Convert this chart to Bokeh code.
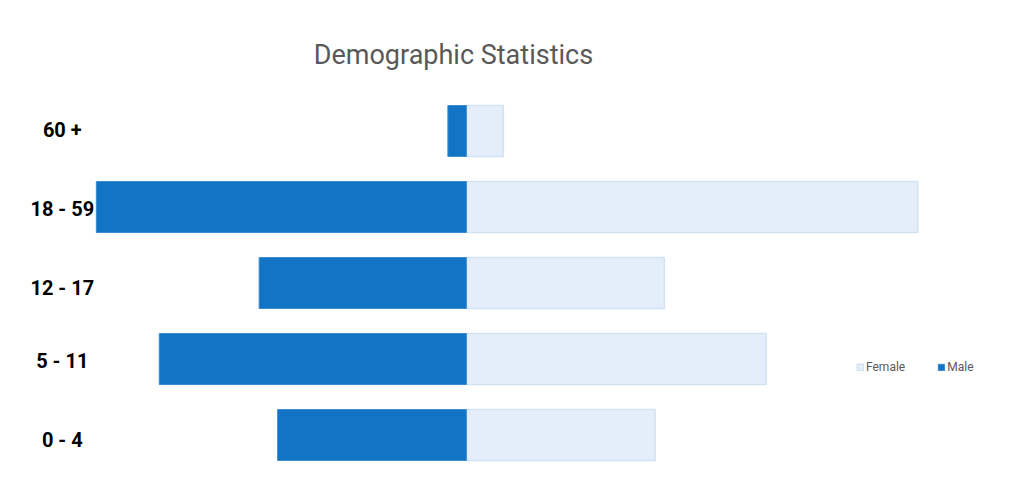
from bokeh.plotting import figure
from bokeh.models import ColumnDataSource, Range1d, Legend, LegendItem, Label
from bokeh.core.properties import value
from bokeh.embed import file_html
from bokeh.resources import INLINE

# Data (top to bottom as shown)
age_groups = ["60 +", "18 - 59", "12 - 17", "5 - 11", "0 - 4"]
male = [5, 100, 56, 83, 51]
female = [10, 122, 53.5, 81, 51]
title_text = "Demographic Statistics"

n = len(age_groups)
ypos = [n - 1 - i for i in range(n)]  # 4 .. 0
label_dy = [-1, 2, 5, 2, 5]

src = ColumnDataSource(dict(
    y=ypos,
    male_left=[-m for m in male],
    zero=[0] * n,
    female=female,
    label=age_groups,
    label_dy=label_dy,
))

W, H = 1015, 472
p = figure(width=W, height=H, output_backend="svg", toolbar_location=None,
           x_range=Range1d(-125.9, 148.4), y_range=Range1d(-0.493, 5.717),
           min_border=0, min_border_left=0, min_border_right=0,
           min_border_top=0, min_border_bottom=0)
p.xaxis.visible = False
p.yaxis.visible = False
p.xgrid.visible = False
p.ygrid.visible = False
p.outline_line_color = None
p.background_fill_color = "white"
p.border_fill_color = "white"

r_f = p.hbar(y="y", left="zero", right="female", height=0.67, source=src,
             fill_color="#E3EEFA", line_color="#D3E2F3", line_width=1.5)
r_m = p.hbar(y="y", left="male_left", right="zero", height=0.67, source=src,
             fill_color="#1274C5", line_color="#3A8AD0", line_width=1)

p.text(x=-109.2, y="y", text="label", source=src, y_offset="label_dy",
       text_align="center", text_baseline="middle",
       text_font=value("Roboto"), text_font_style="bold",
       text_font_size="20px", text_color="#000000")

p.add_layout(Label(x=-3.5, y=5.0, text=title_text, text_align="center",
                   text_baseline="middle", text_font="Roboto",
                   text_font_size="27px", text_color="#595959"))

legend = Legend(items=[LegendItem(label="Female", renderers=[r_f]),
                       LegendItem(label="Male", renderers=[r_m])],
                orientation="horizontal", location=(856, 98),
                glyph_width=8, glyph_height=8, label_height=12,
                label_standoff=2, spacing=32, padding=0, margin=0,
                border_line_color=None, background_fill_alpha=0,
                label_text_font="Roboto", label_text_font_size="12px",
                label_text_color="#595959")
p.add_layout(legend)

open("out.html", "w").write(file_html(p, INLINE))
